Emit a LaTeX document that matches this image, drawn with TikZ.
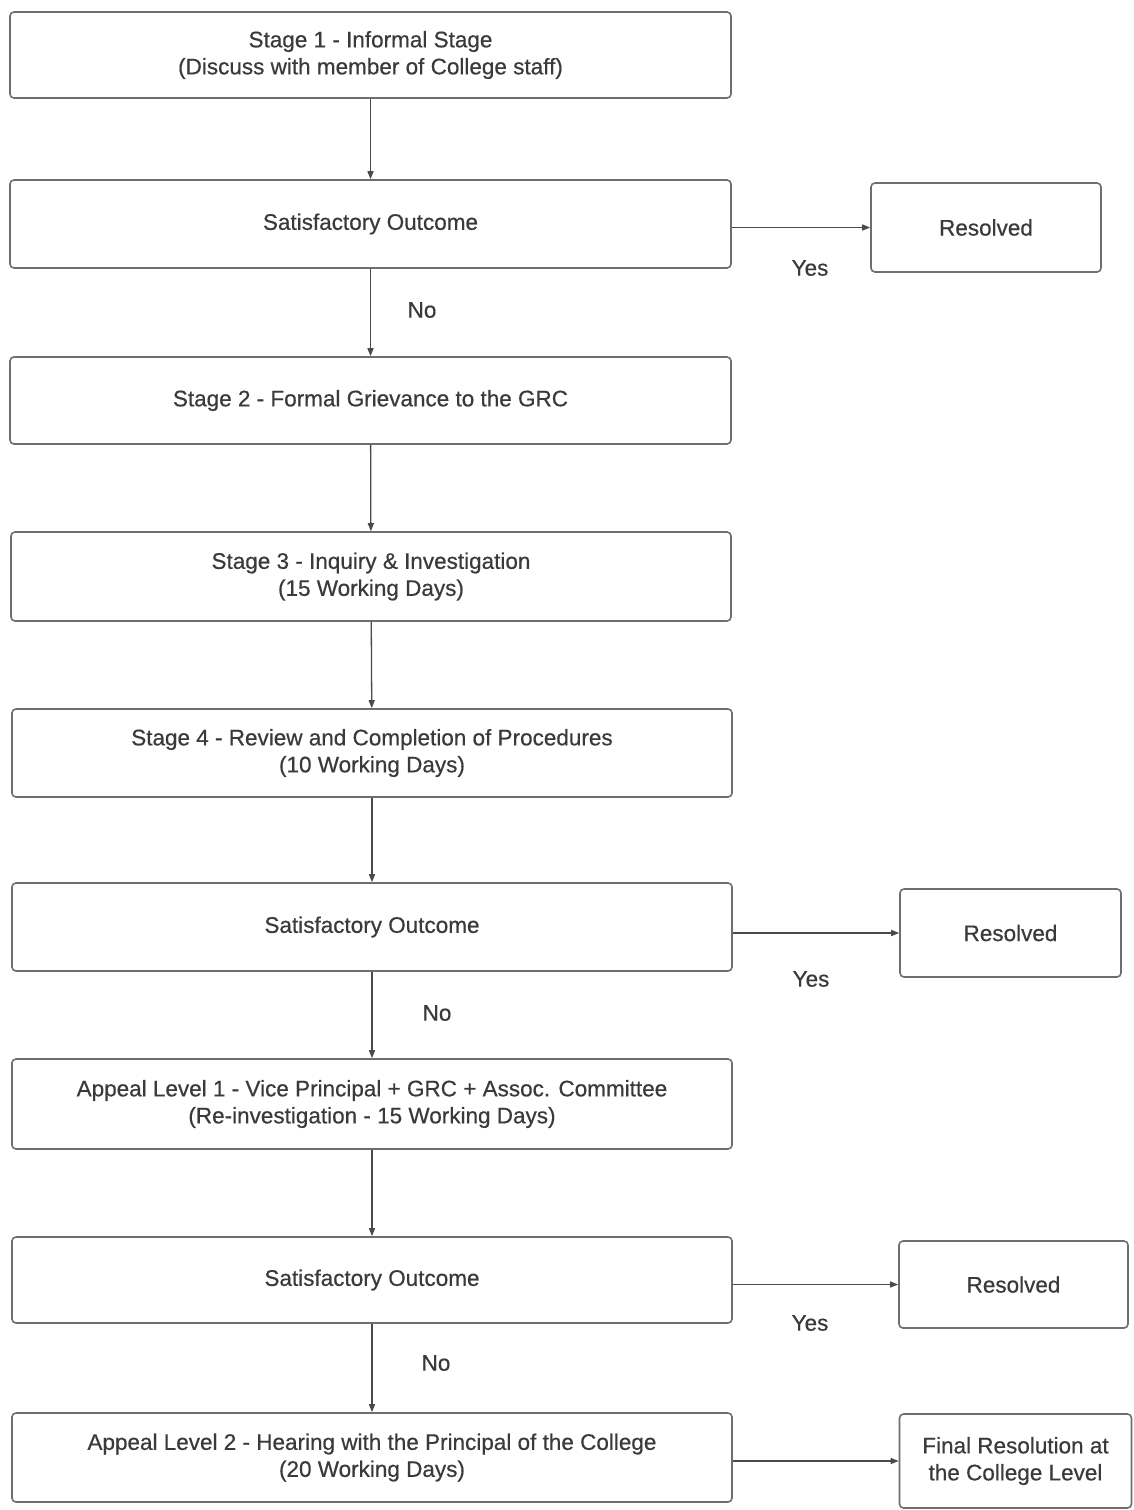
\documentclass[tikz,border=0pt]{standalone}
\usepackage{fontspec}
\setmainfont{Liberation Sans}
\newfontfamily\medfont{Liberation Sans}[FakeBold=0.5]
\usetikzlibrary{arrows.meta}
\definecolor{txt}{HTML}{3A3A3A}
\definecolor{edge}{HTML}{6E6E6E}
\definecolor{arr}{HTML}{4A4A4A}
\tikzset{
  box/.style={draw=edge, line width=1.6pt, rounded corners=4pt, fill=white,
    align=center, text=txt, inner sep=0pt,
    font=\medfont\fontsize{22.5}{27}\selectfont},
  conn/.style={draw=arr, line width=1.3pt, -{Triangle[length=8pt,width=6pt]}},
  lbl/.style={text=txt, font=\medfont\fontsize{22.5}{27}\selectfont, inner sep=0pt}
}
\begin{document}
\begin{tikzpicture}[x=1pt,y=-1pt]
\fill[white] (0,0) rectangle (1133,1510);
\useasboundingbox (0,0) rectangle (1133,1510);

\node[box, minimum width=721pt, minimum height=86pt] (b1) at (370.5,55)
  {Stage 1 - Informal Stage\\(Discuss with member of College staff)};
\node[box, minimum width=721pt, minimum height=88pt] (b2) at (370.5,224)
  {Satisfactory Outcome};
\node[box, minimum width=230pt, minimum height=89pt] (r1) at (986,227.5)
  {Resolved};
\node[box, minimum width=721pt, minimum height=87pt] (b3) at (370.5,400.5)
  {Stage 2 - Formal Grievance to the GRC};
\node[box, minimum width=720pt, minimum height=89pt] (b4) at (371,576.5)
  {Stage 3 - Inquiry \& Investigation\\(15 Working Days)};
\node[box, minimum width=720pt, minimum height=88pt] (b5) at (372,753)
  {Stage 4 - Review and Completion of Procedures\\(10 Working Days)};
\node[box, minimum width=720pt, minimum height=88pt] (b6) at (372,927)
  {Satisfactory Outcome};
\node[box, minimum width=221pt, minimum height=88pt] (r2) at (1010.5,933)
  {Resolved};
\node[box, minimum width=720pt, minimum height=90pt] (b7) at (372,1104)
  {Appeal Level 1 - Vice Principal + GRC + Assoc. Committee\\(Re-investigation - 15 Working Days)};
\node[box, minimum width=720pt, minimum height=86pt] (b8) at (372,1280)
  {Satisfactory Outcome};
\node[box, minimum width=229pt, minimum height=87pt] (r3) at (1013.5,1284.5)
  {Resolved};
\node[box, minimum width=720pt, minimum height=89pt] (b9) at (372,1457.5)
  {Appeal Level 2 - Hearing with the Principal of the College\\(20 Working Days)};
\node[box, minimum width=232pt, minimum height=94pt] (f) at (1015.5,1461)
  {Final Resolution at\\the College Level};

\draw[conn] (b1) -- (b2);
\draw[conn] (b2) -- (b3);
\draw[conn] (b3) -- (b4);
\draw[conn] (b4) -- (b5);
\draw[conn] (b5) -- (b6);
\draw[conn] (b6) -- (b7);
\draw[conn] (b7) -- (b8);
\draw[conn] (b8) -- (b9);

\draw[conn] (b2.east |- r1.west) -- (r1.west);
\draw[conn] (b6.east |- r2.west) -- (r2.west);
\draw[conn] (b8.east |- r3.west) -- (r3.west);
\draw[conn] (b9.east |- f.west) -- (f.west);

\node[lbl] (y1) at (810,268) {Yes};
\node[lbl] (y2) at (811,979) {Yes};
\node[lbl] (y3) at (810,1323) {Yes};
\node[lbl] (n1) at (422,310) {No};
\node[lbl] (n2) at (437,1013) {No};
\node[lbl] (n3) at (436,1363) {No};
\end{tikzpicture}
\end{document}
